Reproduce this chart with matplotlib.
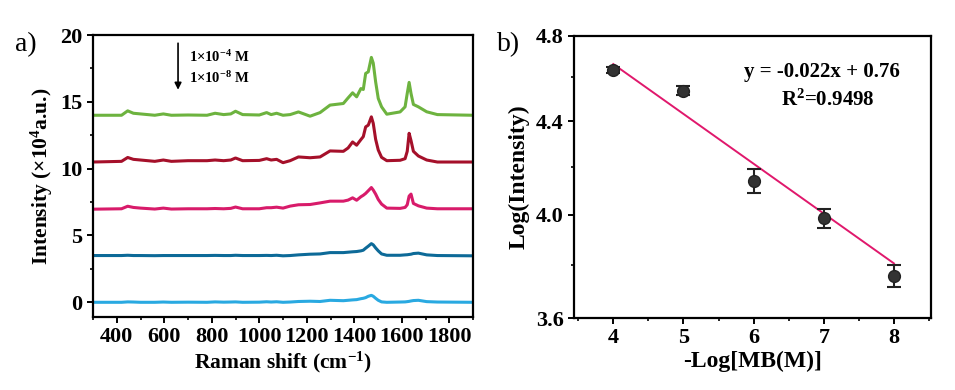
import numpy as np
import matplotlib
matplotlib.use('agg')
import matplotlib.pyplot as plt
from matplotlib.ticker import MultipleLocator, FixedLocator, NullFormatter, FormatStrFormatter

plt.rcParams['font.family'] = ['Liberation Serif', 'DejaVu Serif']
plt.rcParams['font.weight'] = 'bold'
plt.rcParams['mathtext.fontset'] = 'custom'
plt.rcParams['mathtext.rm'] = 'Liberation Serif:bold'
plt.rcParams['mathtext.bf'] = 'Liberation Serif:bold'
plt.rcParams['mathtext.it'] = 'Liberation Serif:italic:bold'

# ---- panel a: SERS spectra ----
raman_shift = [300, 420, 446, 470, 500, 560, 596, 630, 700, 780, 814, 850, 880, 900, 930,
               1000, 1031, 1050, 1073, 1100, 1130, 1165, 1214, 1256, 1298, 1354, 1374, 1393,
               1410, 1428, 1438, 1448, 1459, 1472, 1480, 1490, 1501, 1515, 1537, 1593, 1614,
               1623, 1631, 1639, 1649, 1670, 1705, 1750, 1900]

spec_1e4 = [14.0, 14.0, 14.33, 14.15, 14.1, 14.0, 14.1, 14.0, 14.02, 14.0, 14.15, 14.05, 14.1, 14.3, 14.05,
            14.02, 14.2, 14.05, 14.15, 14.0, 14.05, 14.25, 13.93, 14.2, 14.76, 14.88, 15.3, 15.68,
            15.38, 16.0, 15.93, 17.13, 17.25, 18.33, 17.9, 16.5, 15.26, 14.63, 14.08, 14.25, 14.63,
            15.63, 16.46, 15.63, 14.81, 14.63, 14.26, 14.05, 14.0]
spec_1e5 = [10.5, 10.55, 10.84, 10.7, 10.65, 10.55, 10.65, 10.55, 10.6, 10.6, 10.65, 10.6, 10.65, 10.8, 10.6,
            10.62, 10.75, 10.65, 10.7, 10.45, 10.6, 10.88, 10.82, 10.88, 11.33, 11.3, 11.55, 12.0,
            11.76, 12.18, 12.4, 13.13, 13.26, 13.88, 13.39, 12.2, 11.4, 10.85, 10.6, 10.63, 10.75,
            11.3, 12.65, 12.1, 11.3, 10.95, 10.65, 10.5, 10.5]
spec_1e6 = [6.97, 7.0, 7.19, 7.1, 7.05, 6.98, 7.05, 6.98, 7.0, 7.0, 7.02, 7.0, 7.03, 7.13, 7.0,
            7.0, 7.08, 7.08, 7.12, 7.05, 7.2, 7.3, 7.32, 7.44, 7.57, 7.57, 7.65, 7.82,
            7.64, 7.9, 8.01, 8.15, 8.35, 8.59, 8.4, 8.1, 7.7, 7.35, 7.05, 7.03, 7.1,
            7.3, 7.95, 8.1, 7.4, 7.22, 7.05, 7.0, 7.0]
spec_1e7 = [3.5, 3.5, 3.52, 3.5, 3.5, 3.49, 3.5, 3.5, 3.5, 3.5, 3.51, 3.5, 3.5, 3.52, 3.5,
            3.5, 3.51, 3.5, 3.52, 3.48, 3.5, 3.55, 3.6, 3.62, 3.72, 3.72, 3.75, 3.78,
            3.8, 3.85, 3.9, 4.05, 4.2, 4.39, 4.3, 4.07, 3.85, 3.62, 3.52, 3.52, 3.55,
            3.56, 3.58, 3.6, 3.65, 3.68, 3.55, 3.5, 3.48]
spec_1e8 = [0.0, 0.0, 0.03, 0.02, 0.0, 0.0, 0.02, 0.0, 0.01, 0.0, 0.03, 0.01, 0.02, 0.03, 0.0,
            0.01, 0.04, 0.02, 0.04, 0.0, 0.02, 0.06, 0.08, 0.06, 0.15, 0.12, 0.15, 0.18,
            0.2, 0.27, 0.3, 0.35, 0.45, 0.52, 0.45, 0.3, 0.15, 0.03, 0.0, 0.02, 0.03,
            0.05, 0.07, 0.1, 0.13, 0.15, 0.05, 0.02, 0.0]
spec_colors = ['#6db33f', '#a5102a', '#d81b6a', '#0d6a98', '#29a9e1']

# ---- panel b: calibration ----
neg_log_c = [4, 5, 6, 7, 8]
log_int = [4.635, 4.539, 4.141, 3.985, 3.759]
log_err = [0.012, 0.019, 0.05, 0.038, 0.042]
fit_x = [4, 8]
fit_y = [4.663, 3.806]

fig = plt.figure(figsize=(9.55, 3.9), dpi=100)
ax1 = fig.add_axes([0.0974, 0.1872, 0.3979, 0.7228])
ax2 = fig.add_axes([0.601, 0.1846, 0.374, 0.724])

for spec, c in zip([spec_1e4, spec_1e5, spec_1e6, spec_1e7, spec_1e8], spec_colors):
    ax1.plot(raman_shift, spec, color=c, lw=2.2)

ax1.set_xlim(300, 1900)
ax1.set_ylim(-1.1, 20)
ax1.xaxis.set_major_locator(MultipleLocator(200))
ax1.xaxis.set_minor_locator(MultipleLocator(100))
ax1.yaxis.set_major_locator(MultipleLocator(5))
ax1.yaxis.set_minor_locator(MultipleLocator(2.5))
ax1.set_xlabel('Raman shift (cm$^{-1}$)', fontsize=15.5, fontweight='bold', labelpad=2)
ax1.set_ylabel('Intensity (×10$^{4}$a.u.)', fontsize=15.5, fontweight='bold', labelpad=4)
ax1.annotate('', xy=(658, 15.7), xytext=(658, 19.6),
             arrowprops=dict(arrowstyle='-|>', color='black', lw=1.2, mutation_scale=10))
ax1.text(705, 18.35, '1×10$^{-4}$ M', fontsize=10.5, fontweight='bold', va='center')
ax1.text(705, 16.75, '1×10$^{-8}$ M', fontsize=10.5, fontweight='bold', va='center')

ax2.errorbar(neg_log_c, log_int, yerr=log_err, fmt='o', color='#333333', mec='#222222',
             ms=8.5, ecolor='#222222', elinewidth=1.5, capsize=5, capthick=1.5, zorder=3)
ax2.plot(fit_x, fit_y, color='#e0186c', lw=1.4, zorder=2)
ax2.set_yscale('log')
ax2.set_xlim(3.44, 8.53)
ax2.set_ylim(3.6, 4.8)
ax2.yaxis.set_major_locator(FixedLocator([3.6, 4.0, 4.4, 4.8]))
ax2.yaxis.set_minor_locator(FixedLocator([3.8, 4.2, 4.6]))
ax2.yaxis.set_major_formatter(FormatStrFormatter('%.1f'))
ax2.yaxis.set_minor_formatter(NullFormatter())
ax2.xaxis.set_major_locator(MultipleLocator(1))
ax2.xaxis.set_minor_locator(MultipleLocator(0.5))
ax2.set_xlabel('-Log[MB(M)]', fontsize=17, fontweight='bold', labelpad=2)
ax2.set_ylabel('Log(Intensity)', fontsize=17, fontweight='bold', labelpad=4)
ax2.text(0.695, 0.873, 'y = -0.022x + 0.76', transform=ax2.transAxes, fontsize=15,
         fontweight='bold', ha='center', va='center')
ax2.text(0.711, 0.77, 'R$^{2}$=0.9498', transform=ax2.transAxes, fontsize=15,
         fontweight='bold', ha='center', va='center')

for ax in (ax1, ax2):
    for s in ax.spines.values():
        s.set_linewidth(1.6)
    ax.tick_params(which='major', direction='out', length=4, width=1.4, labelsize=16)
    ax.tick_params(which='minor', direction='out', length=2.5, width=1.2)
    for lab in ax.get_xticklabels() + ax.get_yticklabels():
        lab.set_fontweight('bold')

fig.text(0.027, 0.885, 'a)', fontsize=20, fontweight='normal', va='center', ha='center')
fig.text(0.533, 0.885, 'b)', fontsize=20, fontweight='normal', va='center', ha='center')

fig.savefig('out.png', dpi=100)
